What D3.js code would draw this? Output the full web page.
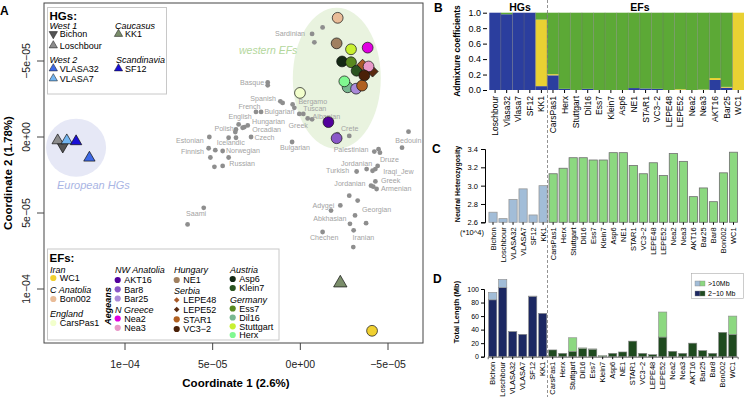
<!DOCTYPE html>
<html>
<head>
<meta charset="utf-8">
<script src="https://cdn.jsdelivr.net/npm/d3@7"></script>
<style>
body { margin: 0; background: #fff; }
svg { display: block; font-family: "Liberation Sans", Arial, sans-serif; }
</style>
</head>
<body>
<div id="fig"></div>
<script>
// ---- panel A data (coordinates from MDS) ----
var hgNames = ["Bichon", "Loschbour", "VLASA32", "VLASA7", "SF12", "KK1"];
var hgC1 = [13.55e-5, 13.84e-5, 12.03e-5, 13.32e-5, 12.79e-5, -2.28e-5];
var hgC2 = [0.62e-5, 0.23e-5, 1.37e-5, 0.23e-5, 0.29e-5, 9.61e-5];

var efNames = ["Bon002", "NE1", "Stuttgart", "Nea2", "Asp6", "Ess7", "Klein7", "LEPE52", "LEPE48", "Nea3",
  "VC3-2", "Dil16", "Herx", "Bar25", "STAR1", "CarsPas1", "AKT16", "Bar8", "WC1"];
var efC1 = [-2.13e-5, -2.07e-5, -2.89e-5, -3.84e-5, -2.38e-5, -2.89e-5, -3.21e-5, -4.12e-5, -3.55e-5, -3.89e-5,
  -3.65e-5, -2.70e-5, -2.51e-5, -3.18e-5, -3.52e-5, 0.02e-5, -1.60e-5, -2.07e-5, -4.09e-5];
var efC2 = [-7.84e-5, -6.16e-5, -5.77e-5, -5.88e-5, -4.97e-5, -4.92e-5, -4.36e-5, -4.31e-5, -4.75e-5, -4.64e-5,
  -4.05e-5, -3.27e-5, -3.66e-5, -3.18e-5, -3.38e-5, -2.90e-5, -0.98e-5, 0.08e-5, 12.75e-5];

// modern reference populations (grey), units of 1e-5
var refC1 = [-1.27, -0.67, -0.80, 1.86, 1.86, 1.14, 1.01, 2.53, 2.24, 0.44, 0.34, 0.06, -0.17, -0.42, -0.67,
  3.52, 3.71, 3.19, 3.00, 3.29, 3.67, 4.09, 3.67, 2.81, 5.19, 5.23, 4.85, 4.43, 5.13, 4.09, 4.90, 4.43, 0.47,
  -2.13, -2.79, -6.17, -5.80, -4.22, -4.46, -4.54, -4.41, -4.28, -4.12, -3.78, -3.21, -4.28, -4.03, -4.35, -4.16,
  -2.79, -3.27, -2.28, -1.75, -3.12, -2.83, -3.75, -3.04, -1.27, -3.02, 5.51, 6.43];
var refC2 = [-7.21, -6.78, -6.23, -3.59, -3.40, -2.35, -2.24, -1.65, -1.65, -2.14, -1.92, -1.52, -1.52, -1.22, -1.16,
  -0.83, -0.33, -0.65, -0.76, -0.61, -0.50, 0.05, 0.05, 0.00, 0.00, 0.74, 0.87, 0.92, 1.35, 1.35, 1.96, 1.90, 0.33,
  -0.18, -0.07, -0.35, 0.70, 0.96, 0.80, 1.03, 1.90, 2.11, 2.22, 2.11, 2.27, 2.92, 3.20, 3.42, 3.27,
  3.86, 4.18, 4.50, 4.84, 5.16, 5.71, 5.67, 6.14, 6.25, 7.24, 4.66, 5.75];

var popNames = ["Sardinian", "Basque", "Spanish", "French", "Bulgarian", "English", "Hungarian", "Orcadian", "Czech",
  "Polish", "Bergamo", "Tuscan", "Albanian", "Greek", "Estonian", "Icelandic", "Finnish", "Norwegian", "Russian",
  "Bulgarian", "Crete", "Bedouin", "Palestinian", "Druze", "Jordanian", "Turkish", "Iraqi_Jew", "Jordanian",
  "Greek", "Armenian", "Adygei", "Georgian", "Abkhasian", "Chechen", "Iranian", "Saami"];
var popC1 = [1.44, 3.44, 2.85, 3.53, 2.05, 4.10, 2.75, 2.74, 2.62, 4.90, 0.11, -0.17, -0.70, 0.67, 7.09, 4.77, 6.80,
  4.24, 4.05, 1.16, -2.32, -5.42, -1.90, -4.54, -2.32, -1.47, -4.73, -1.94, -4.60, -4.60, -0.70, -3.52, -0.74,
  -0.55, -2.98, 6.52];
var popC2 = [-6.82, -3.61, -2.53, -2.03, -1.65, -1.37, -1.00, -0.50, 0.02, -0.57, -2.33, -1.87, -1.38, -0.76, 0.26,
  0.37, 0.96, 0.92, 1.72, 0.72, -0.57, 0.20, 0.85, 1.50, 1.72, 2.22, 2.27, 3.03, 2.85, 3.40, 4.51, 4.79, 5.38,
  6.58, 6.62, 5.05];

var xTicksA = [1e-4, 5e-5, 0, -5e-5];
var xTickLabelsA = ["1e\u221204", "5e\u221205", "0e+00", "\u22125e\u221205"];
var yTicksA = [-5e-5, 0, 5e-5, 1e-4];
var yTickLabelsA = ["\u22125e\u221205", "0e+00", "5e\u221205", "1e\u221204"];

// ---- panel B: admixture ----
var admixNames = ["Loschbour", "Vlasa32", "Vlasa7", "SF12", "KK1", "CarsPas1", "Herx", "Stuttgart", "Dil16", "Ess7",
  "Klein7", "Asp6", "NE1", "STAR1", "VC3\u22122", "LEPE48", "LEPE52", "Nea2", "Nea3", "AKT16", "Bar25", "WC1"];
var admixHG = [1.0, 0.98, 1.0, 1.0, 0.05, 0.19, 0.015, 0, 0.015, 0, 0, 0, 0.025, 0.02, 0.015, 0, 0, 0, 0, 0.13, 0.03, 0];
var admixIran = [0, 0, 0, 0, 0.86, 0.015, 0, 0, 0, 0, 0, 0, 0, 0, 0, 0, 0.01, 0, 0.005, 0.025, 0.01, 1.0];
var admixEF = [0, 0.02, 0, 0, 0.09, 0.795, 0.985, 1.0, 0.985, 1.0, 1.0, 1.0, 0.975, 0.98, 0.985, 1.0, 0.99, 1.0, 0.995,
  0.845, 0.96, 0];

// ---- panel C: heterozygosity ----
var sampleNames = ["Bichon", "Loschbour", "VLASA32", "VLASA7", "SF12", "KK1", "CarsPas1", "Herx", "Stuttgart", "Dil16",
  "Ess7", "Klein7", "Asp6", "NE1", "STAR1", "VC3\u22122", "LEPE48", "LEPE52", "Nea2", "Nea3", "AKT16", "Bar25", "Bar8",
  "Bon002", "WC1"];
var hetValues = [2.71, 2.64, 2.85, 2.965, 2.68, 3.0, 3.13, 3.19, 3.305, 3.305, 3.28, 3.28, 3.36, 3.36, 3.22, 3.13, 3.25,
  3.11, 3.35, 3.265, 2.88, 2.975, 2.825, 3.14, 3.365];

// ---- panel D: ROH ----
var roh2to10 = [84, 102, 37, 33, 89, 64, 10, 5, 8, 12, 11, 0, 5, 7, 23, 5, 3, 29, 8, 5, 20, 9, 5, 36, 33];
var rohOver10 = [11, 12, 0.5, 0, 0.5, 0, 0, 0, 20, 1, 0.5, 1.5, 0, 0, 0, 0, 0, 37, 0, 0, 0, 0, 0, 0, 27];
var nHG = 6;

// ---- colours ----
var hgColor = { "Bichon": "#555555", "Loschbour": "#8c8c8c", "VLASA32": "#3d68e6", "VLASA7": "#72b6f2",
  "SF12": "#1a0fd6", "KK1": "#7b8e6b" };
var efColor = { "WC1": "#f0d030", "Bon002": "#e9bc98", "CarsPas1": "#f2ffcc", "AKT16": "#52009c", "Bar8": "#8a58c8",
  "Bar25": "#a98ad8", "Nea2": "#e000e0", "Nea3": "#e898c8", "NE1": "#a08060", "LEPE48": "#a85a28", "LEPE52": "#5a2a10",
  "STAR1": "#b06020", "VC3-2": "#4a2008", "Asp6": "#142814", "Klein7": "#2a5420", "Ess7": "#5a8a20", "Dil16": "#78b890",
  "Stuttgart": "#c8f030", "Herx": "#80f890" };

var svg = d3.select("#fig").append("svg").attr("width", 748).attr("height", 397);

// ================= Panel A =================
var xA = d3.scaleLinear().domain([1e-4, -5e-5]).range([125, 388]);
var yA = d3.scaleLinear().domain([-5e-5, 1e-4]).range([61, 289]);
var A = svg.append("g");

A.append("ellipse").attr("cx", xA(-2.08e-5)).attr("cy", yA(-3.86e-5)).attr("rx", 44).attr("ry", 70.5)
  .attr("fill", "#e9f3df");
A.append("ellipse").attr("cx", xA(12.79e-5)).attr("cy", yA(0.70e-5)).attr("rx", 30).attr("ry", 29)
  .attr("fill", "#e6e8f6");
A.append("text").attr("x", 239).attr("y", 53.5).attr("font-size", 10.5).attr("font-style", "italic")
  .attr("fill", "#b3d79c").text("western EFs");
A.append("text").attr("x", 57).attr("y", 189).attr("font-size", 11).attr("font-style", "italic")
  .attr("fill", "#a9b5e4").text("European HGs");

// grey reference populations
A.selectAll("circle.ref").data(refC1).enter().append("circle").attr("class", "ref")
  .attr("cx", function (d) { return xA(d * 1e-5); })
  .attr("cy", function (d, i) { return yA(refC2[i] * 1e-5); })
  .attr("r", 2.4).attr("fill", "#8e8e8e");
A.selectAll("text.pop").data(popNames).enter().append("text").attr("class", "pop")
  .attr("x", function (d, i) { return xA(popC1[i] * 1e-5); })
  .attr("y", function (d, i) { return yA(popC2[i] * 1e-5) + 2.5; })
  .attr("font-size", 7.1).attr("fill", "#a3a3a3").text(function (d) { return d; });

// early farmers
efNames.forEach(function (n, i) {
  var x = xA(efC1[i]), y = yA(efC2[i]);
  if (n == "LEPE48" || n == "LEPE52") {
    A.append("path").attr("d", d3.symbol().type(d3.symbolSquare).size(62)())
      .attr("transform", "translate(" + x + "," + y + ") rotate(45)")
      .attr("fill", efColor[n]).attr("stroke", "#111").attr("stroke-width", 0.7);
  } else {
    A.append("circle").attr("cx", x).attr("cy", y).attr("r", 5.4)
      .attr("fill", efColor[n]).attr("stroke", "#111").attr("stroke-width", 0.7);
  }
});

// hunter-gatherers
var tri = d3.symbol().type(d3.symbolTriangle).size(56);
hgNames.forEach(function (n, i) {
  A.append("path").attr("d", n == "KK1" ? d3.symbol().type(d3.symbolTriangle).size(78)() : tri())
    .attr("transform", "translate(" + xA(hgC1[i]) + "," + yA(hgC2[i]) + ")" + (n == "Bichon" ? " rotate(180)" : ""))
    .attr("fill", hgColor[n]).attr("stroke", "#111").attr("stroke-width", 0.7);
});

// frame and axes
A.append("rect").attr("x", 44).attr("y", 3).attr("width", 379).attr("height", 340)
  .attr("fill", "none").attr("stroke", "#444").attr("stroke-width", 1);
xTicksA.forEach(function (t, i) {
  A.append("line").attr("x1", xA(t)).attr("x2", xA(t)).attr("y1", 343).attr("y2", 350).attr("stroke", "#444");
  A.append("text").attr("x", xA(t)).attr("y", 368).attr("text-anchor", "middle").attr("font-size", 10.5)
    .attr("fill", "#222").text(xTickLabelsA[i]);
});
yTicksA.forEach(function (t, i) {
  A.append("line").attr("x1", 37).attr("x2", 44).attr("y1", yA(t)).attr("y2", yA(t)).attr("stroke", "#444");
  A.append("text").attr("transform", "translate(30," + yA(t) + ") rotate(-90)").attr("text-anchor", "middle")
    .attr("font-size", 10.5).attr("fill", "#222").text(yTickLabelsA[i]);
});
A.append("text").attr("x", 236).attr("y", 387).attr("text-anchor", "middle").attr("font-size", 11.5)
  .attr("font-weight", "bold").text("Coordinate 1 (2.6%)");
A.append("text").attr("transform", "translate(12,173) rotate(-90)").attr("text-anchor", "middle")
  .attr("font-size", 11.5).attr("font-weight", "bold").text("Coordinate 2 (1.78%)");
A.append("text").attr("x", 0).attr("y", 15).attr("font-size", 12).attr("font-weight", "bold").text("A");

// HG legend
var L1 = A.append("g");
L1.append("rect").attr("x", 47.5).attr("y", 7.5).attr("width", 119).attr("height", 86.5)
  .attr("fill", "#fff").attr("stroke", "#c8c8c8");
L1.append("text").attr("x", 49.5).attr("y", 19.5).attr("font-size", 11.5).attr("font-weight", "bold").text("HGs:");
function hdr(g, x, y, t) {
  g.append("text").attr("x", x).attr("y", y).attr("font-size", 9).attr("font-style", "italic").text(t);
}
function hgItem(x, y, n) {
  L1.append("path").attr("d", d3.symbol().type(d3.symbolTriangle).size(30)())
    .attr("transform", "translate(" + x + "," + y + ")" + (n == "Bichon" ? " rotate(180)" : ""))
    .attr("fill", hgColor[n]).attr("stroke", "#111").attr("stroke-width", 0.5);
  L1.append("text").attr("x", x + 6.5).attr("y", y + 3.3).attr("font-size", 9).text(n);
}
hdr(L1, 49.5, 28.5, "West 1");
hgItem(53.3, 34, "Bichon");
hgItem(53.3, 45.5, "Loschbour");
hdr(L1, 49.5, 63, "West 2");
hgItem(53.3, 68.5, "VLASA32");
hgItem(53.3, 78.5, "VLASA7");
hdr(L1, 115, 28.5, "Caucasus");
hgItem(118.5, 34, "KK1");
hdr(L1, 116, 63, "Scandinavia");
hgItem(118.5, 68.5, "SF12");

// EF legend
var L2 = A.append("g");
L2.append("rect").attr("x", 47.5).attr("y", 249).attr("width", 231.5).attr("height", 91)
  .attr("fill", "#fff").attr("stroke", "#c8c8c8");
L2.append("text").attr("x", 49.5).attr("y", 262).attr("font-size", 11.5).attr("font-weight", "bold").text("EFs:");
function efItem(x, y, n) {
  if (n == "LEPE48" || n == "LEPE52") {
    L2.append("path").attr("d", d3.symbol().type(d3.symbolSquare).size(16)())
      .attr("transform", "translate(" + x + "," + y + ") rotate(45)").attr("fill", efColor[n]);
  } else {
    L2.append("circle").attr("cx", x).attr("cy", y).attr("r", 3.1).attr("fill", efColor[n]);
  }
  L2.append("text").attr("x", x + 6.5).attr("y", y + 3.3).attr("font-size", 9)
    .text(n == "VC3-2" ? "VC3\u22122" : n);
}
hdr(L2, 50, 273, "Iran"); efItem(53.3, 278, "WC1");
hdr(L2, 50, 293, "C Anatolia"); efItem(53.3, 299, "Bon002");
hdr(L2, 50, 316.5, "England"); efItem(53.3, 323, "CarsPas1");
hdr(L2, 115, 273, "NW Anatolia"); efItem(117.7, 280, "AKT16"); efItem(117.7, 289.3, "Bar8"); efItem(117.7, 298.5, "Bar25");
hdr(L2, 115, 313, "N Greece"); efItem(117.7, 318.5, "Nea2"); efItem(117.7, 327.8, "Nea3");
hdr(L2, 174, 273, "Hungary"); efItem(176.7, 280, "NE1");
hdr(L2, 174, 294, "Serbia"); efItem(176.7, 300, "LEPE48"); efItem(176.7, 309.5, "LEPE52");
efItem(176.7, 319.3, "STAR1"); efItem(176.7, 329, "VC3-2");
hdr(L2, 230, 273, "Austria"); efItem(232.7, 279, "Asp6"); efItem(232.7, 288, "Klein7");
hdr(L2, 230, 302.5, "Germany"); efItem(232.7, 308.5, "Ess7"); efItem(232.7, 317.5, "Dil16");
efItem(232.7, 326.3, "Stuttgart"); efItem(232.7, 335, "Herx");
L2.append("text").attr("transform", "translate(111,306) rotate(-90)").attr("text-anchor", "middle")
  .attr("font-size", 9).attr("font-weight", "bold").attr("font-style", "italic").text("Aegeans");

// ================= Panel B =================
var B = svg.append("g");
var xB = d3.scaleBand().domain(admixNames).range([489.3, 744]);
var yB = d3.scaleLinear().domain([0, 1]).range([90, 12.7]);
var stackData = admixNames.map(function (n, i) {
  return { name: n, hg: admixHG[i], iran: admixIran[i], ef: admixEF[i] };
});
var stack = d3.stack().keys(["hg", "iran", "ef"]);
var admixColor = { hg: "#2b3e9e", iran: "#e9d133", ef: "#5ca936" };
B.selectAll("g.layer").data(stack(stackData)).enter().append("g").attr("class", "layer")
  .attr("fill", function (d) { return admixColor[d.key]; })
  .selectAll("rect").data(function (d) { return d; }).enter().append("rect")
  .attr("x", function (d) { return xB(d.data.name); })
  .attr("width", xB.bandwidth())
  .attr("y", function (d) { return yB(d[1]); })
  .attr("height", function (d) { return yB(d[0]) - yB(d[1]); });
B.selectAll("line.sep").data(admixNames.slice(1)).enter().append("line").attr("class", "sep")
  .attr("x1", function (d) { return xB(d); }).attr("x2", function (d) { return xB(d); })
  .attr("y1", yB(1)).attr("y2", yB(0)).attr("stroke", "#6a6a6a").attr("stroke-width", 0.4);
var axB = B.append("g").attr("transform", "translate(487,0)")
  .call(d3.axisLeft(yB).tickValues([0, 0.2, 0.4, 0.6, 0.8, 1]).tickFormat(d3.format(".1f")).tickSize(4).tickPadding(2));
axB.select(".domain").remove();
axB.selectAll("text").attr("font-size", 9).attr("font-family", null);
var axBx = B.append("g").attr("transform", "translate(0,90)")
  .call(d3.axisBottom(xB).tickSize(3).tickPadding(3));
axBx.select(".domain").remove();
axBx.selectAll("text").attr("font-size", 8.5).attr("font-family", null)
  .attr("transform", "rotate(-90)").attr("text-anchor", "end").attr("x", -6).attr("y", 0).attr("dy", "0.35em");
B.append("text").attr("transform", "translate(460,51) rotate(-90)").attr("text-anchor", "middle")
  .attr("font-size", 8.5).attr("font-weight", "bold").text("Admixture coefficients");
B.append("text").attr("x", 520).attr("y", 10.5).attr("text-anchor", "middle").attr("font-size", 10.5)
  .attr("font-weight", "bold").text("HGs");
B.append("text").attr("x", 640).attr("y", 10.5).attr("text-anchor", "middle").attr("font-size", 10.5)
  .attr("font-weight", "bold").text("EFs");
B.append("text").attr("x", 434).attr("y", 12).attr("font-size", 12).attr("font-weight", "bold").text("B");

// ================= Panel C =================
var C = svg.append("g");
var xC = d3.scaleBand().domain(sampleNames).range([488, 738.5]).paddingInner(0.18).paddingOuter(0.09);
var yC = d3.scaleLinear().domain([2.6, 3.4]).range([222.3, 149]);
C.selectAll("rect").data(hetValues).enter().append("rect")
  .attr("x", function (d, i) { return xC(sampleNames[i]); })
  .attr("width", xC.bandwidth())
  .attr("y", function (d) { return yC(d); })
  .attr("height", function (d) { return yC(2.6) - yC(d); })
  .attr("fill", function (d, i) { return i < nHG ? "#a2bdd8" : "#8cd880"; })
  .attr("stroke", function (d, i) { return i < nHG ? "#9a9a9a" : "#6f6f6f"; })
  .attr("stroke-width", 0.8);
var axC = C.append("g").attr("transform", "translate(485,0)")
  .call(d3.axisLeft(yC).tickValues([2.6, 2.8, 3.0, 3.2, 3.4]).tickFormat(d3.format(".1f")).tickSize(4).tickPadding(3));
axC.selectAll("text").attr("font-size", 7.5).attr("font-family", null);
var axCx = C.append("g").attr("transform", "translate(0,222.3)")
  .call(d3.axisBottom(xC).tickSize(2.5).tickPadding(2));
axCx.select(".domain").remove();
axCx.selectAll("text").attr("font-size", 7.5).attr("font-family", null)
  .attr("transform", "rotate(-90)").attr("text-anchor", "end").attr("x", -5).attr("y", 0).attr("dy", "0.35em");
C.append("text").attr("transform", "translate(460,184) rotate(-90)").attr("text-anchor", "middle")
  .attr("font-size", 7).attr("font-weight", "bold").text("Neutral Heterozygosity");
C.append("text").attr("x", 472).attr("y", 235).attr("text-anchor", "middle").attr("font-size", 7.5)
  .text("(*10^4)");
C.append("text").attr("x", 432).attr("y", 152.5).attr("font-size", 12).attr("font-weight", "bold").text("C");

// ================= Panel D =================
var D = svg.append("g");
var xD = d3.scaleBand().domain(sampleNames).range([487.7, 737.7]).paddingInner(0.18).paddingOuter(0.09);
var yD = d3.scaleLinear().domain([0, 100]).range([356.7, 289]);
var rohData = sampleNames.map(function (n, i) { return { name: n, i: i, short: roh2to10[i], long: rohOver10[i] }; });
var rohStack = d3.stack().keys(["short", "long"])(rohData);
var rohColor = {
  short: function (i) { return i < nHG ? "#1c2862" : "#1f4a1f"; },
  long: function (i) { return i < nHG ? "#a2bdd8" : "#8cd880"; }
};
D.selectAll("g.layer").data(rohStack).enter().append("g").attr("class", "layer")
  .each(function (layer) {
    d3.select(this).selectAll("rect").data(layer).enter().append("rect")
      .attr("x", function (d) { return xD(d.data.name); })
      .attr("width", xD.bandwidth())
      .attr("y", function (d) { return yD(d[1]); })
      .attr("height", function (d) { return yD(d[0]) - yD(d[1]); })
      .attr("fill", function (d) { return rohColor[layer.key](d.data.i); })
      .attr("stroke", "#8a8a8a").attr("stroke-width", 0.6);
  });
var axD = D.append("g").attr("transform", "translate(484,0)")
  .call(d3.axisLeft(yD).tickValues([0, 20, 40, 60, 80, 100]).tickSize(3).tickPadding(2));
axD.selectAll("text").attr("font-size", 7).attr("font-family", null);
var axDx = D.append("g").attr("transform", "translate(0,356.7)")
  .call(d3.axisBottom(xD).tickSize(2.5).tickPadding(2));
axDx.select(".domain").attr("stroke", "#666");
axDx.selectAll("text").attr("font-size", 7.5).attr("font-family", null)
  .attr("transform", "rotate(-90)").attr("text-anchor", "end").attr("x", -5).attr("y", 0).attr("dy", "0.35em");
D.append("text").attr("transform", "translate(459,312) rotate(-90)").attr("text-anchor", "middle")
  .attr("font-size", 7.5).attr("font-weight", "bold").text("Total Length (Mb)");
D.append("text").attr("x", 433).attr("y", 283).attr("font-size", 12).attr("font-weight", "bold").text("D");
// legend
var LD = D.append("g");
LD.append("rect").attr("x", 691.5).attr("y", 273.5).attr("width", 52).attr("height", 25)
  .attr("fill", "#fff").attr("stroke", "#aaa").attr("stroke-width", 0.6);
[["long", ">10Mb", 283.5], ["short", "2\u221210 Mb", 293.5]].forEach(function (r) {
  LD.append("rect").attr("x", 695).attr("y", r[2] - 2.5).attr("width", 5).attr("height", 5)
    .attr("fill", rohColor[r[0]](0)).attr("stroke", "#888").attr("stroke-width", 0.4);
  LD.append("rect").attr("x", 700).attr("y", r[2] - 2.5).attr("width", 5).attr("height", 5)
    .attr("fill", rohColor[r[0]](nHG)).attr("stroke", "#888").attr("stroke-width", 0.4);
  LD.append("text").attr("x", 708).attr("y", r[2] + 2.5).attr("font-size", 7).text(r[1]);
});

// dashed divider HGs | EFs
svg.append("line").attr("x1", 547.5).attr("x2", 547.5).attr("y1", 0).attr("y2", 397)
  .attr("stroke", "#777").attr("stroke-width", 0.8).attr("stroke-dasharray", "3,2");
</script>
</body>
</html>
